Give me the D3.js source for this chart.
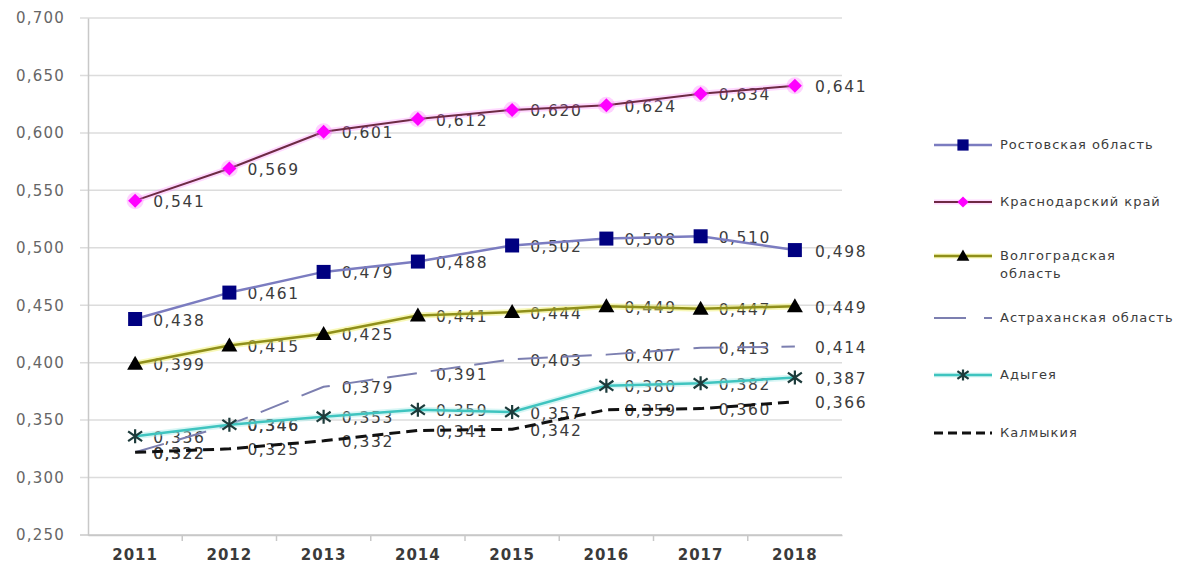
<!DOCTYPE html>
<html><head><meta charset="utf-8">
<script src="https://cdn.jsdelivr.net/npm/d3@7"></script>
<style>body{margin:0;background:#fff}svg{display:block}</style>
</head><body>
<svg id="c" width="1200" height="564"></svg>
<script>
const years = ["2011","2012","2013","2014","2015","2016","2017","2018"];
const yTicks = [0.25,0.30,0.35,0.40,0.45,0.50,0.55,0.60,0.65,0.70];
const rostov   = [0.438,0.461,0.479,0.488,0.502,0.508,0.510,0.498];
const krasnodar= [0.541,0.569,0.601,0.612,0.620,0.624,0.634,0.641];
const volgograd= [0.399,0.415,0.425,0.441,0.444,0.449,0.447,0.449];
const astrakhan= [0.322,0.346,0.379,0.391,0.403,0.407,0.413,0.414];
const adygea   = [0.336,0.346,0.353,0.359,0.357,0.380,0.382,0.387];
const kalmykia = [0.322,0.325,0.332,0.341,0.342,0.359,0.360,0.366];
const seriesNames = ["Ростовская область","Краснодарский край","Волгоградская область","Астраханская область","Адыгея","Калмыкия"];

const series = [
  {name:seriesNames[0], legend:["Ростовская область"], values:rostov, line:"#7b7cc0", w:2.5, glow:null, gop:0, dash:null, marker:"square", mfill:"#000080"},
  {name:seriesNames[1], legend:["Краснодарский край"], values:krasnodar, line:"#6e2a44", w:2, glow:"#ff66ff", gop:0.25, dash:null, marker:"diamond", mfill:"#ff00ff"},
  {name:seriesNames[2], legend:["Волгоградская","область"], values:volgograd, line:"#8f8f1a", w:2.5, glow:"#f0f060", gop:0.45, dash:null, marker:"triangle", mfill:"#000000"},
  {name:seriesNames[3], legend:["Астраханская область"], values:astrakhan, line:"#7c7fb0", w:2, glow:null, gop:0, dash:"30,14", marker:null},
  {name:seriesNames[4], legend:["Адыгея"], values:adygea, line:"#3fc4bf", w:2.5, glow:"#a8ece8", gop:0.45, dash:null, marker:"star", mfill:"#1d3b3b"},
  {name:seriesNames[5], legend:["Калмыкия"], values:kalmykia, line:"#111111", w:3, glow:null, gop:0, dash:"11,6", marker:null}
];

const svg = d3.select("#c");
const L=88, R=842, T=18, B=535;
const x = d3.scaleBand().domain(years).range([L,R]);
const y = d3.scaleLinear().domain([0.25,0.70]).range([B,T]);
const cx = d => x(d)+x.bandwidth()/2;
const fmt = v => d3.format(".3f")(v).replace(".",",");
const font = "'DejaVu Sans', Verdana, sans-serif";

// gridlines
svg.append("g").selectAll("line").data(yTicks).join("line")
  .attr("x1",80).attr("x2",R).attr("y1",d=>y(d)).attr("y2",d=>y(d))
  .attr("stroke",d=>d===0.25?"#c8c8c8":"#dcdcdc").attr("stroke-width",1.5);

// y axis
const yAxis = d3.axisLeft(y).tickValues(yTicks).tickSize(0).tickPadding(23).tickFormat(fmt);
const gy = svg.append("g").attr("transform",`translate(${L},0)`).call(yAxis);
gy.select(".domain").attr("stroke","#c8c8c8").attr("stroke-width",1.5);
gy.selectAll("text").attr("font-family",font).attr("font-size",15).attr("fill","#666666").attr("letter-spacing",1.2);

// x axis
const xAxis = d3.axisBottom(x).tickSize(0).tickPadding(14);
const gx = svg.append("g").attr("transform",`translate(0,${B})`).call(xAxis);
gx.select(".domain").attr("stroke","#c8c8c8").attr("stroke-width",1.5);
gx.selectAll("text").attr("font-family",font).attr("font-size",15).attr("font-weight","bold").attr("fill","#3a3a3a").attr("letter-spacing",1);
svg.append("g").selectAll("line").data(years.slice(1)).join("line")
  .attr("x1",d=>x(d)).attr("x2",d=>x(d)).attr("y1",B).attr("y2",B+6)
  .attr("stroke","#c8c8c8").attr("stroke-width",1.5);

// labels
const lab = svg.append("g");
series.forEach(s=>{
  lab.selectAll(null).data(s.values).join("text")
    .attr("x",(d,i)=>cx(years[i])+ (i===7?20:18))
    .attr("y",(d)=>y(d)+2)
    .attr("dominant-baseline","middle")
    .attr("font-family",font).attr("font-size",15.5).attr("letter-spacing",1.6)
    .attr("fill","#3c3c3c").text(d=>fmt(d));
});

const line = d3.line().x((d,i)=>cx(years[i])).y(d=>y(d));

function drawMarker(g, type, fill, px, py, scale){
  scale = scale||1;
  if(type==="square"){
    g.append("rect").attr("x",px-7*scale).attr("y",py-7*scale).attr("width",14*scale).attr("height",14*scale).attr("fill",fill);
  } else if(type==="diamond"){
    g.append("path").attr("d",`M${px},${py-7*scale}L${px+7*scale},${py}L${px},${py+7*scale}L${px-7*scale},${py}Z`).attr("fill",fill);
  } else if(type==="triangle"){
    g.append("path").attr("d",`M${px},${py-8*scale}L${px+8*scale},${py+6*scale}L${px-8*scale},${py+6*scale}Z`).attr("fill",fill);
  } else if(type==="star"){
    const r=7*scale;
    g.append("path").attr("d",`M${px-r},${py-r*0.7}L${px+r},${py+r*0.7}M${px-r},${py+r*0.7}L${px+r},${py-r*0.7}M${px},${py-r}L${px},${py+r}`)
      .attr("stroke",fill).attr("stroke-width",2.2).attr("fill","none");
  }
}

const lines = svg.append("g");
series.forEach(s=>{
  if(s.glow){
    lines.append("path").datum(s.values).attr("d",line).attr("fill","none")
      .attr("stroke",s.glow).attr("stroke-opacity",s.gop).attr("stroke-width",6).attr("stroke-linejoin","round");
  }
  lines.append("path").datum(s.values).attr("d",line).attr("fill","none")
    .attr("stroke",s.line).attr("stroke-width",s.w).attr("stroke-dasharray",s.dash).attr("stroke-linejoin","round");
  if(s.marker){
    s.values.forEach((v,i)=>{
      if(s.marker==="diamond"){
        lines.append("circle").attr("cx",cx(years[i])).attr("cy",y(v)).attr("r",8.5).attr("fill",s.glow).attr("opacity",0.3);
      }
      drawMarker(lines, s.marker, s.mfill, cx(years[i]), y(v));
    });
  }
});

// legend
const legY = [145,202,256,318,375,433];
const lg = svg.append("g");
series.forEach((s,k)=>{
  const yy = legY[k];
  if(s.glow){
    lg.append("line").attr("x1",934).attr("x2",992).attr("y1",yy).attr("y2",yy).attr("stroke",s.glow).attr("stroke-opacity",s.gop).attr("stroke-width",5);
  }
  lg.append("line").attr("x1",934).attr("x2",992).attr("y1",yy).attr("y2",yy)
    .attr("stroke",s.line).attr("stroke-width",s.w)
    .attr("stroke-dasharray",k===5?"9,5":(k===3?"32,18":null));
  if(s.marker) drawMarker(lg, s.marker, s.mfill, 963, yy, 0.8);
  const t = lg.append("text").attr("x",1000).attr("y",yy).attr("dominant-baseline","middle")
    .attr("font-family",font).attr("font-size",13).attr("letter-spacing",1).attr("fill","#3c3c3c");
  s.legend.forEach((ln,j)=>{
    t.append("tspan").attr("x",1000).attr("dy",j===0?0:18).text(ln);
  });
});
</script>
</body></html>
